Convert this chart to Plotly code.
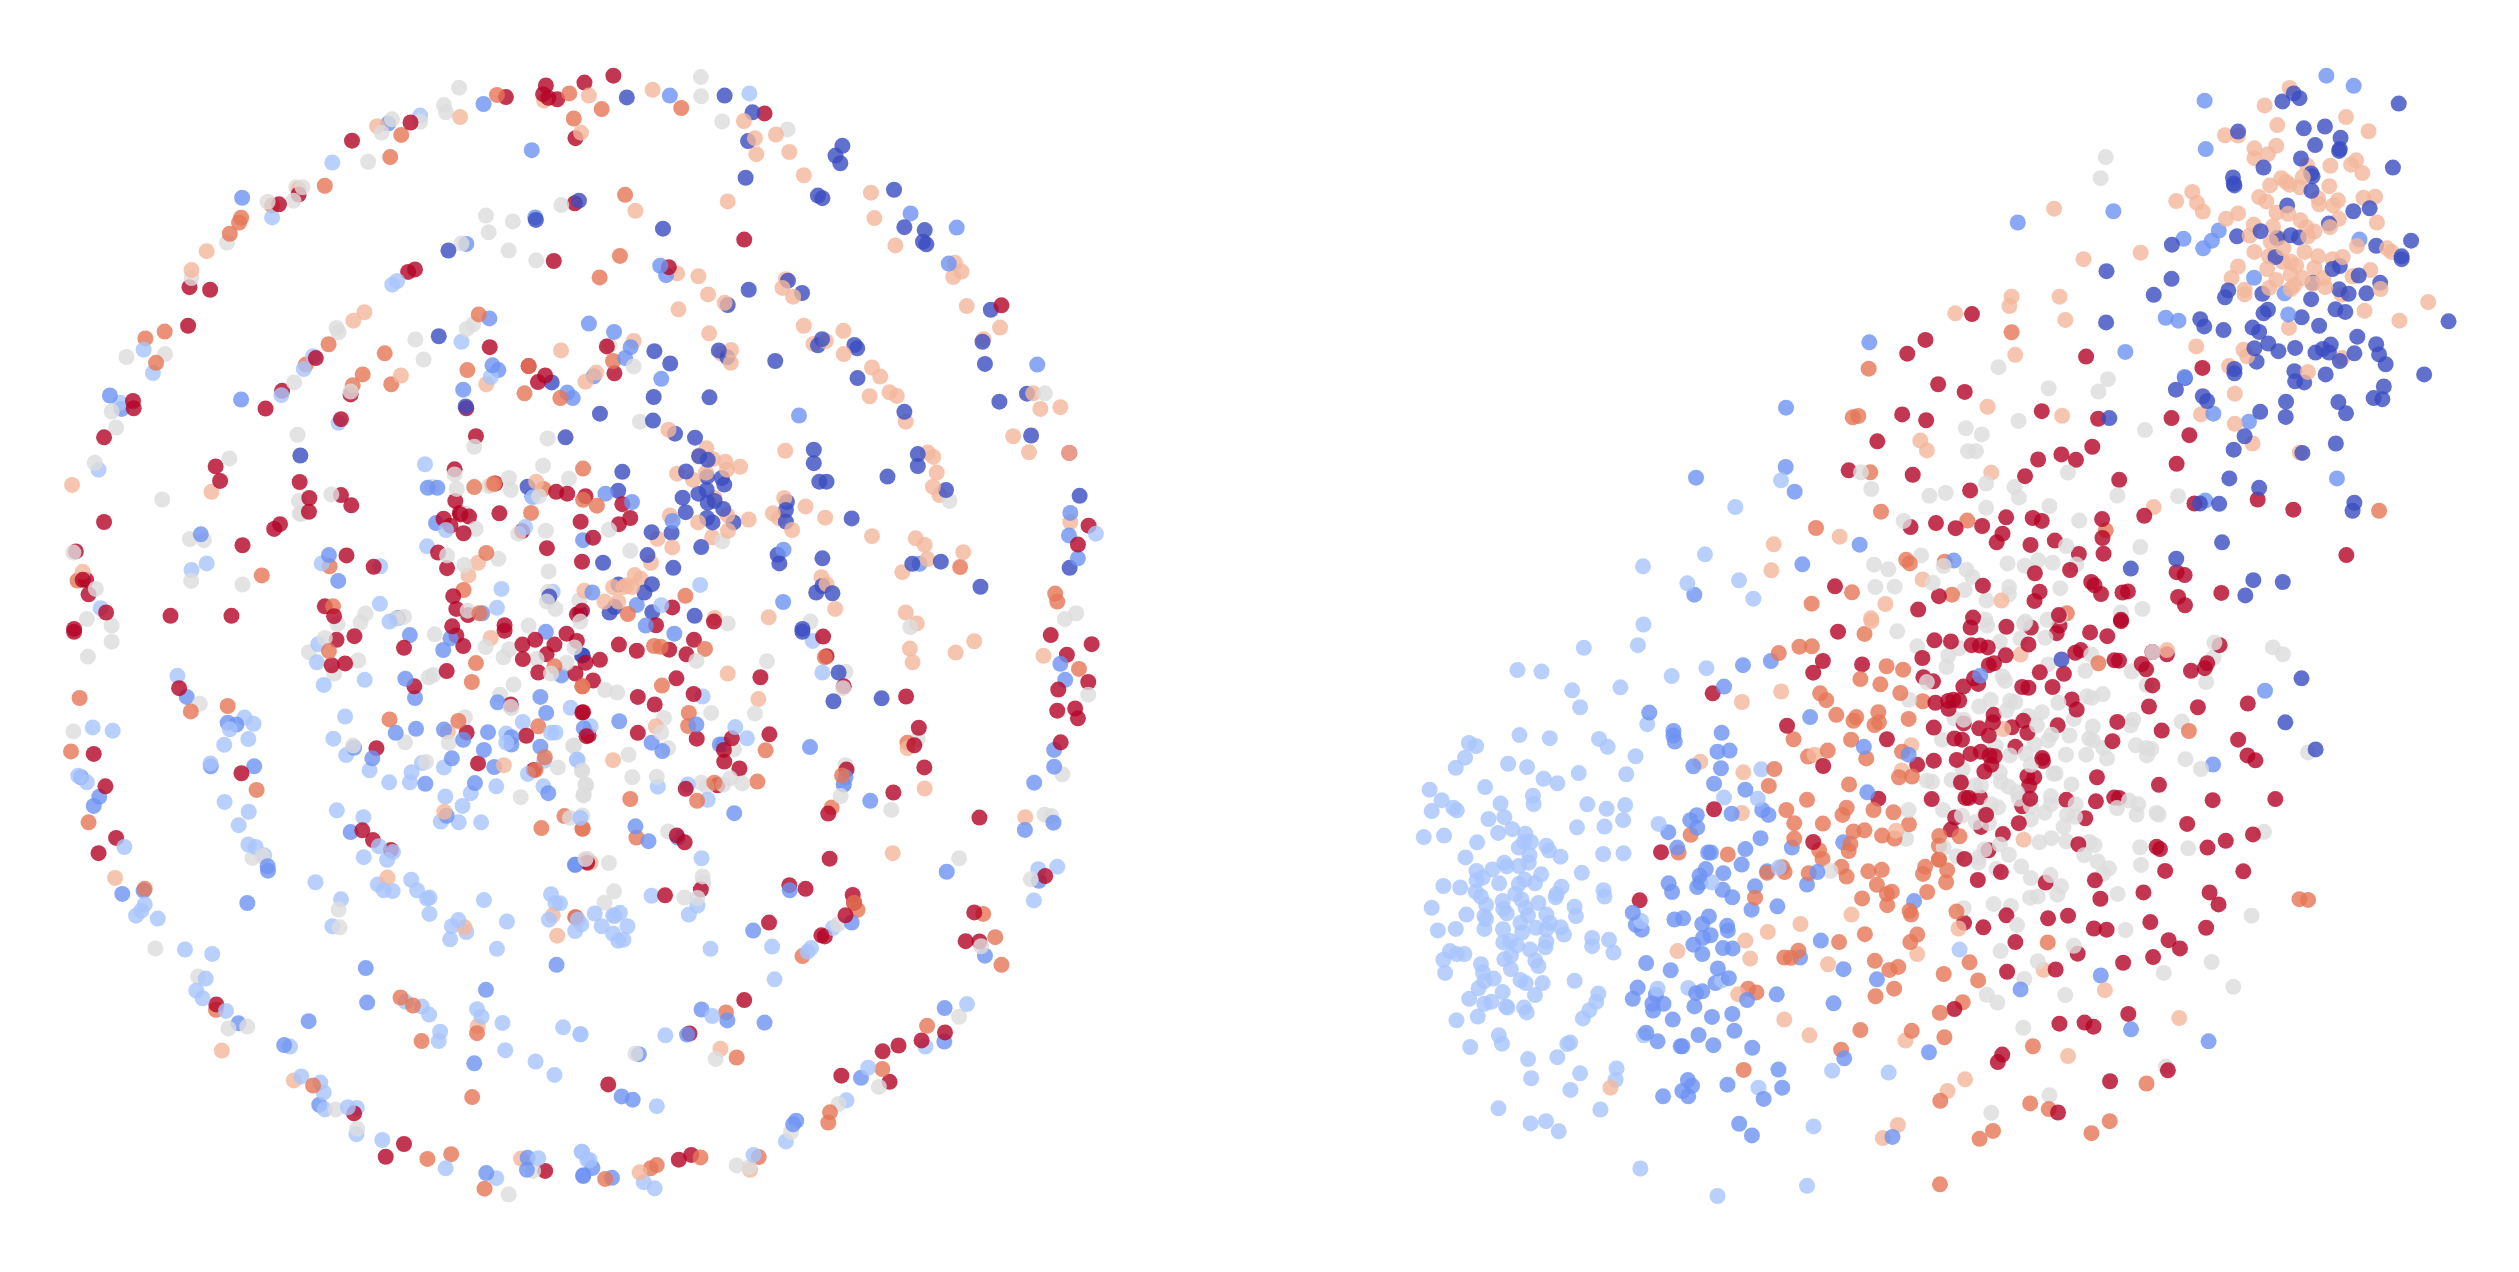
import plotly.graph_objects as go

CLASS_COLORS = {"d": "#3b4cc0", "m": "#6d92f1", "l": "#a7c4fc", "g": "#dddcdc",
                "p": "#f4b79b", "o": "#e57656", "r": "#b40426"}

# ---- left cloud, read sheet by sheet from the picture ----
A1_r = [(877,222),(1047,172),(1324,102),(1440,70),(1432,94),(1473,108),(1447,104),(1526,215),(1552,62),(722,370),(665,397),(1060,576),(1040,583),(405,625),(465,632),(401,731),(241,938),(243,958),(772,820),(674,910),(626,959),(845,988),(1209,958),(157,1038),(1237,1035),(1277,790),(1438,868),(1417,886),(1463,553),(1524,394),(481,1118),(494,1158),(725,1161),(753,1205),(752,1243),(845,1197),(875,1225),(157,1271),(668,1277),(651,1290),(559,1335),(861,1363),(940,1394),(1175,1126),(1177,1213),(1190,1246),(1192,1250),(1217,1256),(1143,1262),(1163,1281),(1201,1302),(1305,1247),(1293,1165),(1470,1188),(1502,1193),(1541,1270),(1555,1200),(1371,1296),(1443,1343),(1545,1380),(1127,1355),(1153,1398),(75,1352),(105,1430),(95,1430),(112,1470),(163,1520),(350,1529),(527,1529),(798,1503),(825,1530),(1171,1475),(1180,1510),(1214,1527),(1320,1555),(1168,1558),(1530,1525),(1545,1515),(70,1565),(873,920),(1390,842)]
A1_o = [(1298,96),(1508,92),(1521,161),(1020,206),(988,267),(798,346),(645,400),(555,434),(549,447),(522,478),(277,766),(333,747),(308,833),(809,782),(743,838),(972,807),(908,865),(879,895),(991,892),(1245,700),(1212,853),(1378,917),(1482,930),(1390,842),(1433,1180),(1548,1124),(1232,1175),(1290,1165),(1548,1210),(1397,1246),(1267,1356),(1201,1458),(1247,1522),(812,1393),(615,1418),(822,1503),(80,1432)]
A1_p = [(1191,157),(950,182),(1542,200),(1565,98),(1435,112),(722,355),(455,526),(411,578),(881,717),(913,694),(1019,868),(1484,799),(1267,892),(1555,885),(1412,1160),(1285,1168),(64,1169),(469,1188),(1215,1418),(1243,1383),(95,1408),(1552,1460)]
A1_g = [(1188,76),(1144,124),(1150,144),(993,163),(1075,170),(963,200),(924,280),(632,390),(707,387),(715,350),(733,350),(514,502),(411,600),(334,809),(222,817),(179,967),(192,1011),(130,1108),(521,1096),(326,1209),(832,737),(838,749),(1061,769),(1085,824),(1210,740),(1229,727),(1266,428),(1274,474),(1344,444),(1332,524),(1412,551),(1485,399),(1195,505),(709,887),(873,912),(719,1031),(1445,1041),(1232,1064),(1432,1116),(1333,1150),(1507,1152),(1338,1183),(1275,1172),(1181,1180),(1110,1174),(817,1195),(723,1213),(725,1248),(731,1248),(1175,1140),(1205,1248),(1236,1290),(1360,1303),(1440,1295),(1153,1363),(1302,1372),(1203,1389),(1448,1407),(1447,1463),(1537,1487),(1468,1510),(1443,1490),(406,1318),(447,1321),(410,1433),(559,1443),(68,1355),(133,1455),(107,1538),(179,1556),(916,1523),(902,1547),(1028,1532),(1005,1537),(1213,1515),(1390,1556),(1540,1545),(835,1552),(1420,1200)]
A1_l = [(820,282),(1075,153),(272,797),(299,861),(645,433),(1008,608),(994,618),(737,850),(672,922),(764,815),(204,943),(141,1127),(1195,775),(1280,872),(838,998),(1089,1112),(1380,1285),(1402,1203),(1095,1338),(959,1393),(789,1385),(411,1403),(455,1385),(147,1508),(958,1496),(1311,1455),(1298,1507),(1460,1463),(986,1545),(1150,1293)]
A1_m = [(1259,121),(982,175),(558,379),(1399,248),(1409,433),(1209,506),(1276,711),(1565,725),(1285,840),(1302,853),(1200,907),(1502,915),(1518,930),(174,923),(208,960),(555,934),(1097,1177),(1125,1177),(1400,1200),(1121,1274),(1548,1321),(810,1362),(837,1433),(1255,1522),(1010,1535),(438,1305)]
A1_d = [(1536,387),(1411,440),(1157,524),(1129,760),(1457,887),(1207,953),(1497,1038),(727,1088),(1387,1174),(1450,1476),(1540,1520)]

A2_r = [(126,43),(565,147),(506,494),(1253,675),(287,570),(1450,1081),(1506,1281),(1475,1333),(152,1222),(175,1260),(142,1277),(67,1314),(129,862),(297,1506),(250,1555),(418,1545),(107,788)]
A2_o = [(92,135),(323,132),(160,371),(145,539),(86,598),(125,828),(78,1226),(335,1474),(168,1524),(1133,1395),(1409,1468),(1415,1490)]
A2_p = [(240,82),(505,168),(537,215),(598,205),(637,253),(541,259),(679,317),(458,389),(190,415),(874,365),(884,435),(945,510),(1118,558),(1137,582),(1113,597),(1152,677),(1249,736),(1201,768),(311,587),(373,595),(401,645),(449,668),(315,686),(617,627),(627,603),(648,651),(679,731),(707,781),(743,773),(794,745),(795,809),(877,846),(901,871),(928,914),(949,924),(870,925),(975,995),(404,752),(440,808),(468,798),(467,833),(185,773),(76,860),(286,1017),(396,1068),(375,1088),(415,1098),(451,1105),(494,1119),(456,1127),(311,1138),(357,1155),(395,1135),(420,1205),(290,1253),(372,1272),(413,1313),(459,1295),(457,1252),(519,1264),(254,1317),(297,1341),(235,1383),(625,1075),(622,1205),(684,1228),(589,1247),(606,1260),(645,1293),(741,1259),(877,1310),(1039,1080),(1055,1092),(1065,1135),(1054,1174),(1073,1197),(1004,1316),(1030,1334),(1038,1373),(1142,1354),(965,1409),(1287,1035),(1333,1079),(1345,917),(1366,960),(1424,955),(1453,1271),(730,1423),(745,1442),(770,1510),(975,1520),(1007,1550),(577,1533),(188,1417),(205,1427),(165,1445),(180,1450),(155,1450),(125,1450),(100,1490),(140,1490),(420,1535),(1450,1081)]
A2_g = [(380,47),(381,100),(442,169),(632,191),(1379,917),(1102,1213),(203,995),(185,843),(175,1350),(113,1292),(442,1324),(1437,1538),(1470,1522),(698,1545),(988,1560),(458,1550),(115,785)]
A2_l = [(521,92),(1527,1303),(378,1444),(265,1500)]
A2_m = [(290,98),(989,422),(1123,461),(1100,560),(262,566),(279,592),(128,748),(176,790),(160,820),(265,877),(69,870),(180,1216),(103,1193),(298,1268),(620,1347),(665,978),(1357,838),(1453,1246),(1449,1308),(1475,1371),(1015,1386),(194,1499),(619,1491),(220,1556),(65,1465)]
A2_d = [(165,103),(449,98),(530,144),(517,223),(791,236),(771,263),(785,284),(510,324),(720,373),(733,380),(941,357),(971,460),(1030,468),(1025,500),(1035,507),(270,464),(1222,687),(1198,775),(1205,836),(633,607),(674,641),(519,632),(458,674),(245,801),(291,835),(432,799),(457,818),(732,768),(720,785),(826,784),(834,793),(835,875),(596,828),(243,927),(405,928),(87,973),(241,992),(1247,940),(1327,918),(971,968),(305,1028),(363,1039),(375,1090),(400,1100),(337,1132),(398,1147),(441,1150),(448,1168),(152,1133),(140,1185),(397,1183),(373,1193),(327,1204),(400,1218),(420,1213),(445,1235),(336,1244),(398,1260),(414,1272),(475,1272),(237,1299),(295,1301),(381,1340),(225,1362),(300,1397),(96,1383),(630,1216),(627,1238),(627,1270),(708,1072),(708,1109),(724,1160),(745,1160),(922,1146),(1010,1084),(1010,1117),(1092,1183),(818,1261),(1077,1380),(994,1386),(1339,1033),(1480,1199),(1451,1397),(603,1361),(608,1385),(733,1371),(141,1443),(238,1442),(216,1465),(1192,1449),(715,1465),(733,1447),(762,1467),(239,1519),(362,1529),(115,1520),(130,1505),(675,1565)]

A3_r = [(70,5),(832,27),(884,17),(1028,49),(1200,44),(1180,15),(1372,40),(1409,27),(818,97),(857,92),(1152,113),(1373,80),(1418,117),(1058,155),(1526,120),(1546,227),(1442,67),(1465,40),(1500,10),(1530,30),(1555,90),(1338,205),(948,325),(1210,282),(1383,291),(1558,292),(1243,367),(127,341),(161,430),(375,160),(556,394),(907,551),(938,578),(990,605),(192,572),(141,614),(483,1030),(1438,1488),(1028,1414),(975,1449),(883,1330),(1320,2),(1560,640),(1405,385)]
A3_o = [(86,187),(61,334),(516,209),(409,224),(600,440),(986,246),(1186,250),(1237,91),(1225,143),(1418,265),(1437,350),(1410,385),(1546,155),(1465,100),(1494,512),(1427,545),(1546,547),(275,712),(112,529),(1018,1011),(1054,1033),(1079,1131),(1240,1109),(1226,1285),(764,1253),(1096,1455),(1165,1442),(1262,1537),(482,1045),(810,58),(1525,790)]
A3_p = [(1280,22),(189,682),(980,681),(1145,500),(1318,372),(1204,818),(1460,785),(1473,841),(708,1239),(1242,1090),(499,1157),(1368,1454),(1155,280)]
A3_g = [(179,32),(110,73),(752,61),(798,22),(1117,12),(1265,47),(1333,53),(1317,75),(895,84),(1413,80),(1500,90),(1455,120),(1523,48),(825,120),(1100,130),(1113,124),(1346,150),(1307,178),(1340,215),(1205,240),(1031,309),(880,318),(68,279),(435,203),(1158,310),(1519,319),(1092,363),(1475,378),(1545,387),(1555,425),(1549,455),(1367,460),(1338,212),(1510,517),(617,622),(588,627),(1555,630),(838,769),(841,818),(306,876),(430,953),(518,1096),(573,1091),(830,1319),(892,1372),(1403,1488),(1332,1553)]
A3_l = [(779,39),(775,89),(370,126),(795,151),(914,137),(857,238),(823,299),(860,344),(928,386),(985,419),(1045,419),(1050,391),(1080,366),(1144,378),(1512,214),(1373,253),(1455,283),(1468,282),(1325,285),(1325,310),(1530,357),(1433,430),(1435,360),(1388,396),(1296,430),(1222,449),(1148,458),(1198,484),(1135,527),(1187,529),(1252,529),(1540,517),(124,268),(182,277),(82,401),(107,419),(565,241),(591,258),(522,273),(576,300),(506,316),(466,367),(507,473),(577,500),(548,537),(576,590),(597,597),(622,620),(216,597),(833,496),(910,515),(955,595),(996,611),(979,632),(911,625),(771,694),(845,741),(820,815),(952,700),(969,716),(995,718),(1049,687),(1066,716),(1095,739),(1102,736),(1102,781),(1186,798),(1167,815),(1209,831),(1162,851),(1260,743),(1327,802),(1298,877),(1455,727),(1468,752),(1481,752),(1449,797),(1525,828),(1543,810),(1533,797),(275,755),(265,772),(250,786),(313,794),(392,879),(471,891),(452,959),(425,992),(443,1013),(511,1048),(697,1146),(730,1228),(785,1245),(795,1272),(798,1319),(865,1313),(891,1315),(890,1387),(965,1403),(1033,1023),(1080,1036),(1101,1058),(1133,1105),(1129,1131),(1240,1043),(1253,1064),(1314,1081),(1322,1156),(1490,1093),(1541,1112),(1410,1187),(1465,1224),(1149,1481),(1418,1453),(1296,1508),(1544,1435),(1560,1457)]
A3_m = [(1045,14),(1163,23),(1142,55),(1440,5),(1032,134),(1060,187),(1424,184),(1441,228),(1300,199),(1004,283),(1063,272),(1144,274),(1200,302),(1272,281),(1260,330),(1340,295),(1340,315),(1424,321),(1167,353),(1290,377),(1090,423),(1234,421),(1447,449),(936,353),(883,324),(516,255),(541,260),(593,375),(467,375),(90,405),(143,459),(127,484),(397,184),(1152,511),(873,556),(632,650),(633,662),(210,726),(272,717),(573,751),(917,930),(921,1025),(1266,990),(1471,921),(1232,1192),(547,1082),(751,1076),(680,1142),(782,1306),(1267,1494),(1387,1452),(1549,1500),(1385,1485),(1525,646),(1485,125)]
A3_d = [(1545,70)]

A4_r = [(142,40),(194,57),(288,54),(338,67),(360,27),(87,82),(67,139),(309,133),(197,184),(246,205),(359,176),(197,283),(368,299),(38,226),(54,290),(447,330),(448,362),(492,381),(579,287),(336,437),(428,427),(553,130),(745,72),(735,18),(1396,14),(1515,39),(1443,68),(1505,143),(1418,164),(1415,222),(1467,216),(1475,243),(1425,309),(1013,269),(1000,317),(1029,378),(939,447),(976,183),(795,155),(750,505),(803,384),(1189,516),(754,629),(310,565),(333,584),(47,635),(380,714),(276,730),(637,702),(684,712),(821,729),(825,750),(800,785),(578,805),(730,840),(740,843),(1380,677),(1174,777),(1149,856),(1189,857),(506,1018),(347,1110),(111,1250),(908,1159),(954,1143),(1021,1129),(1089,1107),(928,1243),(788,1226),(316,1457),(352,1444),(470,298)]
A4_o = [(244,44),(263,46),(392,52),(267,153),(36,155),(345,228),(343,264),(568,331),(544,417),(175,465),(369,470),(37,546),(193,571),(419,420),(760,488),(740,75),(1478,107),(790,400),(980,310),(835,770),(825,750),(1200,781),(1235,845),(1253,921),(675,897),(453,1052),(484,1176),(1037,1089),(907,1208),(755,1327),(750,1355),(379,1451),(548,1450),(252,1472),(234,1481),(102,1510),(17,790)]
A4_p = [(458,120),(547,190),(249,265),(125,358),(987,51),(995,89),(1120,62),(1174,31),(1375,71),(1030,436),(1322,515),(937,614),(437,1152),(523,1485),(202,1492),(60,640),(980,325)]
A4_g = [(572,86),(367,85),(102,165),(137,172),(537,230),(410,228),(273,242),(265,282),(285,325),(170,343),(12,318),(35,387),(181,405),(252,404),(47,427),(40,453),(465,408),(500,422),(381,420),(445,425),(397,430),(476,328),(800,115),(793,160),(786,457),(800,372),(802,385),(933,495),(1010,300),(1505,178),(1430,397),(1378,508),(1398,512),(285,554),(113,641),(50,630),(128,719),(100,750),(385,678),(387,695),(332,736),(370,737),(36,510),(1130,628),(1338,686),(778,810),(1194,870),(1130,1064),(423,1180),(190,1165),(897,1257),(780,1304),(642,1381),(484,1473),(520,1478)]
A4_l = [(733,117),(705,30),(385,183),(60,265),(22,357),(255,431),(480,267),(514,298),(342,425),(400,467),(30,517),(795,425),(382,628),(237,731),(1360,658),(1415,651),(1347,744),(370,758),(345,783),(72,780),(125,785),(145,778),(130,787),(92,815),(167,815),(125,835),(140,855),(155,852),(408,877),(587,871),(594,961),(763,820),(700,875),(690,885),(413,1062),(277,1115),(30,1112),(252,1310),(627,1407),(803,1294),(866,1204),(1153,1029),(1032,1146),(35,1435),(57,1458),(214,1519),(246,1536),(533,1444)]
A4_m = [(303,10),(143,251),(237,310),(268,333),(435,315),(445,315),(367,260),(697,322),(872,470),(800,405),(795,425),(818,805),(477,504),(190,540),(228,581),(313,571),(15,646),(1094,665),(1348,420),(1406,376),(1406,330),(1424,93),(1438,137),(1321,550),(1404,530),(1362,690),(532,827),(638,716),(1205,896),(382,1044),(457,1074),(565,1080),(340,1113),(200,1167),(150,1283),(182,1292),(1088,1040),(1087,1132),(845,1232),(657,1350),(648,1360),(65,1480),(38,1502),(122,1507),(40,270)]
A4_d = [(675,5),(780,117),(765,196),(905,188),(37,70)]

# ---- right cloud ----
B1_l = [(707,12),(534,74),(691,67),(341,133),(411,137),(789,149),(890,128),(500,187),(640,179),(523,232),(718,277),(347,306),(435,314),(578,316),(603,337),(200,327),(221,335),(189,366),(162,393),(314,382),(369,391),(684,362),(519,407),(657,410),(417,422),(457,434),(86,451),(121,479),(247,444),(386,467),(388,489),(292,488),(92,508),(155,499),(165,506),(544,490),(600,502),(654,492),(648,532),(257,529),(303,524),(326,556),(285,566),(364,568),(514,551),(594,549),(69,577),(128,573),(224,591),(360,590),(380,590),(345,605),(425,600),(433,613),(466,629),(376,625),(374,645),(590,622),(649,620),(190,631),(303,645),(310,655),(345,654),(268,663),(222,667),(240,685),(222,692),(410,676),(528,672),(362,690),(345,702),(392,700),(288,700),(126,707),(175,711),(469,709),(220,722),(235,735),(455,728),(452,737),(591,718),(594,735),(335,728),(250,757),(298,747),(353,743),(402,752),(92,765),(507,762),(511,787),(193,783),(245,787),(250,795),(300,768),(310,780),(365,765),(372,785),(425,783),(435,805),(350,805),(110,825),(162,821),(245,821),(299,822),(355,830),(395,818),(425,822),(467,817),(476,836),(558,845),(558,867),(607,850),(620,884),(300,857),(320,853),(340,865),(425,855),(422,870),(378,876),(145,880),(165,888),(187,888),(126,903),(303,902),(322,892),(393,905),(402,920),(131,938),(235,915),(322,928),(241,937),(272,953),(245,960),(350,957),(365,965),(414,965),(507,959),(228,979),(298,989),(392,997),(576,993),(201,1007),(570,1015),(550,1037),(265,1015),(245,1020),(308,1027),(360,1030),(368,1043),(312,1030),(531,1059),(164,1064),(226,1054),(287,1104),(296,1126),(204,1135),(494,1123),(486,1127),(372,1167),(457,1162),(381,1218),(523,1205),(629,1192),(626,1222),(495,1249),(286,1298),(582,1301),(379,1338),(424,1332),(461,1359),(698,1458),(922,1531),(1201,1346),(1182,1504),(1255,1198),(1419,1203),(1041,1243),(708,1104),(837,978),(748,980),(935,958),(905,697),(700,800),(751,542),(941,472),(1039,475),(1049,397),(1100,658)]
B1_m = [(724,246),(794,295),(794,307),(798,323),(934,300),(922,350),(957,347),(852,389),(932,394),(912,435),(1003,451),(996,120),(1077,109),(941,177),(1191,258),(1347,337),(1477,358),(1357,458),(862,519),(843,532),(863,552),(779,564),(963,515),(1052,505),(1070,518),(1047,580),(805,605),(1003,609),(992,650),(1287,591),(1138,605),(895,618),(903,618),(888,662),(870,680),(939,673),(872,698),(863,710),(780,700),(790,723),(937,717),(965,737),(1031,708),(1021,770),(1096,761),(1182,703),(1212,670),(1066,668),(676,778),(685,810),(702,823),(797,796),(822,793),(897,788),(878,808),(950,813),(952,825),(902,838),(880,845),(852,863),(878,888),(938,872),(966,873),(1222,852),(1162,897),(1288,928),(1493,747),(715,912),(786,931),(923,926),(955,952),(916,965),(690,977),(676,1007),(743,996),(733,1020),(765,1020),(735,1038),(860,992),(878,987),(855,1027),(1008,1010),(1094,995),(1259,1019),(1385,955),(792,1062),(906,1055),(965,1047),(971,1092),(715,1097),(748,1120),(867,1103),(910,1130),(815,1133),(820,1133),(1023,1137),(1099,1195),(1110,1243),(836,1223),(820,1252),(848,1238),(837,1266),(764,1266),(951,1235),(1056,1273),(985,1339),(1022,1370),(1430,1374),(1290,1165),(1536,1149)]
B1_o = [(1100,88),(1160,71),(1196,70),(1349,37),(1413,123),(1461,132),(1337,157),(1395,171),(1220,195),(1238,213),(1453,194),(1518,216),(1267,252),(1325,258),(1317,268),(1389,245),(1378,279),(1391,272),(1477,263),(1143,317),(1310,318),(1242,347),(1185,363),(1354,368),(1458,350),(1087,396),(1071,441),(1449,418),(1487,416),(1304,437),(1182,478),(1122,505),(1297,499),(1285,518),(1375,505),(1433,511),(1145,540),(1228,541),(1478,543),(1317,562),(1349,559),(1145,581),(1400,573),(1436,581),(844,571),(809,618),(952,623),(1308,595),(1303,614),(1217,612),(1227,635),(1117,670),(1110,657),(1066,672),(1187,673),(1282,656),(1297,682),(1360,668),(1399,664),(1525,656),(1519,675),(1385,704),(1428,722),(1414,728),(1342,740),(1531,723),(1415,758),(1031,738),(1480,773),(1484,783),(1350,835),(1275,856),(1502,836),(1482,856),(1157,879),(1116,897),(1135,898),(1379,906),(1421,930),(1447,922),(1435,980),(1381,1000),(1011,980),(1035,990),(1486,1092),(1337,1090),(1281,1142),(998,1196),(1565,600),(1565,637)]
B1_p = [(1369,3),(1107,190),(993,218),(872,377),(997,405),(1204,358),(1485,333),(1457,400),(993,513),(1441,560),(1311,783),(1163,808),(1068,829),(1003,852),(806,880),(1017,900),(1243,915),(1502,888),(982,995),(1116,1062),(1189,1104),(1468,1118),(611,1243),(1402,1377),(1446,1342)]
B1_r = [(1272,31),(1552,54),(1517,101),(1228,109),(1200,140),(1342,118),(1520,152),(1548,163),(908,195),(1124,281),(1550,286),(1414,317),(1229,388),(1502,385),(1550,374),(1389,475),(1544,476),(912,503),(1200,590),(758,617),(696,745),(1555,220)]
B1_g = [(1444,30),(1502,70),(1478,212),(1530,165),(1530,427),(1250,667),(1477,505),(1470,582),(1545,430)]

B2_r = [(205,20),(309,18),(380,20),(463,15),(552,33),(602,43),(642,3),(455,35),(148,57),(208,67),(232,68),(255,73),(373,65),(307,94),(509,87),(525,80),(623,107),(636,108),(702,117),(715,131),(775,91),(733,174),(845,135),(885,128),(892,115),(928,67),(184,177),(215,155),(227,170),(258,120),(273,115),(406,139),(476,143),(443,178),(355,178),(373,180),(499,211),(513,238),(723,230),(865,232),(1010,222),(140,215),(155,212),(172,214),(141,236),(272,252),(270,272),(230,288),(258,307),(325,285),(358,268),(370,300),(458,280),(631,271),(760,294),(158,315),(180,318),(185,275),(335,337),(617,322),(982,318),(1009,360),(1032,373),(205,356),(235,350),(260,360),(275,362),(165,372),(245,403),(265,385),(415,375),(370,415),(390,418),(375,440),(572,418),(752,438),(177,432),(190,473),(200,473),(232,471),(378,475),(355,495),(483,478),(569,482),(622,472),(636,473),(908,479),(1090,476),(160,525),(148,557),(250,518),(235,550),(345,540),(538,527),(834,542),(1025,570),(946,587),(893,605),(745,603),(755,609),(299,569),(518,596),(257,612),(187,635),(293,670),(226,691),(770,667),(997,668),(423,698),(566,692),(707,724),(582,741),(899,724),(925,756),(309,785),(186,805),(242,817),(430,793),(488,786),(563,820),(600,823),(727,803),(889,818),(780,851),(813,873),(335,856),(516,887),(735,896),(648,911),(452,929),(311,935),(158,1034),(663,1047),(463,1073),(536,1070),(562,1081),(297,1155),(284,1175),(778,1197),(610,1226),(459,1309),(413,367),(733,85)]
B2_o = [(127,941),(202,910),(227,958),(182,1016),(116,1044),(129,1109),(386,1133),(117,1278),(378,1285),(432,1300),(270,1358),(231,1379),(609,1332),(556,1364),(716,1232),(116,1500),(429,857),(576,115),(839,295),(1160,742),(1185,744),(114,574),(173,575),(113,636),(137,665),(134,697),(164,775)]
B2_p = [(350,92),(300,290),(359,584),(170,820),(417,930),(595,984),(811,1058),(488,1159),(189,1221),(138,1252),(775,80)]
B2_g = [(140,95),(135,125),(172,75),(253,15),(290,58),(350,50),(360,10),(422,47),(430,118),(298,150),(305,162),(263,212),(230,230),(320,215),(335,218),(412,245),(372,255),(398,280),(310,240),(158,262),(185,265),(122,318),(278,335),(365,355),(319,360),(391,330),(430,320),(440,305),(492,307),(482,358),(541,358),(550,315),(560,320),(601,368),(590,340),(560,283),(505,263),(670,280),(677,265),(685,333),(716,340),(730,343),(717,360),(818,270),(829,370),(874,396),(1185,352),(1083,73),(1112,91),(538,135),(556,92),(673,137),(734,85),(716,173),(889,165),(910,100),(913,60),(543,203),(557,207),(589,197),(460,220),(415,367),(380,385),(445,408),(452,408),(290,405),(293,430),(315,443),(150,425),(175,430),(182,397),(235,440),(217,440),(340,458),(345,475),(498,437),(438,468),(438,490),(380,495),(420,512),(285,498),(265,490),(125,505),(180,520),(220,537),(258,540),(248,515),(510,490),(485,518),(508,523),(475,550),(380,530),(630,500),(665,480),(692,490),(687,517),(745,513),(751,517),(127,605),(165,628),(228,632),(228,645),(245,610),(290,597),(316,624),(405,591),(440,580),(483,588),(550,590),(565,598),(535,625),(697,604),(837,607),(1057,563),(352,655),(280,662),(380,686),(437,678),(468,708),(574,642),(607,660),(590,675),(700,651),(378,738),(400,735),(457,730),(632,728),(272,755),(322,760),(185,766),(340,811),(655,824),(292,880),(505,866),(400,907),(361,954),(252,996),(283,1017),(480,997),(358,1084),(1021,786),(766,938),(905,909),(968,975),(434,1263),(265,1310),(772,1187)]
B2_m = [(233,148),(1060,188),(909,384),(583,945),(350,982),(671,1088),(896,1120)]
B2_l = [(173,876)]
B2_d = [(469,105),(1166,155),(1119,272),(1207,344)]

B3_p = [(1072,77),(1003,125),(1038,179),(1227,157),(1289,196),(894,207),(930,208),(975,243),(1035,236),(1012,259),(975,270),(1184,291),(1120,290),(1241,288),(1255,276),(1272,311),(1049,325),(1062,335),(1072,343),(1018,345),(1100,350),(1108,322),(1181,347),(804,363),(760,388),(817,393),(833,417),(988,377),(1008,389),(1150,380),(1153,397),(1205,386),(1192,400),(1275,379),(1307,376),(1036,420),(1068,423),(930,422),(897,437),(1207,437),(1312,447),(1102,441),(1026,458),(973,453),(962,483),(1183,460),(1118,460),(1140,472),(1123,485),(1043,490),(1020,500),(1055,518),(975,528),(1113,528),(1257,512),(1340,518),(1352,528),(662,530),(505,548),(1150,540),(1190,548),(1218,542),(1015,540),(1075,555),(1090,565),(1010,575),(1053,555),(930,568),(1140,572),(1294,578),(1075,590),(1107,600),(1035,605),(1085,620),(1075,630),(1170,625),(1165,600),(1245,595),(912,600),(948,632),(948,645),(1016,627),(1215,645),(1322,630),(1453,666),(1278,690),(1374,717),(1070,737),(424,409),(307,651),(301,677),(439,651),(152,697),(455,715),(317,811),(241,954),(446,979),(56,1047),(74,1074),(251,1135),(698,1230),(279,1487),(62,1429),(815,788),(945,797),(955,815),(905,842),(1122,858),(1217,820),(921,918),(828,975),(921,1001),(970,1055),(1100,1080),(1135,615)]
B3_o = [(307,749),(1318,1240),(566,1294),(185,1267),(17,1375),(27,1385),(123,1380),(143,1471),(459,1522)]
B3_g = [(566,267),(552,325),(271,845),(409,903),(572,878),(546,912),(326,993),(181,1013),(225,1030),(187,1076),(209,1076),(674,1018),(462,1135),(237,1165),(315,1175),(327,1204),(81,1199),(126,1191),(237,1232),(411,1227),(598,1198),(765,1200),(493,1267),(661,1340),(457,1337),(58,1363),(120,1392),(183,1402),(199,1422),(296,1385),(343,1391),(380,1376),(420,1383),(485,1388),(90,1438),(178,1458),(300,1450),(300,1470),(441,1453),(238,1487),(667,1510),(608,1520),(10,1268),(405,1540),(440,1530),(345,1545),(235,1540)]
B3_m = [(838,112),(1173,43),(1248,71),(841,245),(587,416),(324,447),(877,469),(858,497),(834,518),(780,492),(1264,494),(974,599),(1058,642),(731,709),(766,717),(1068,700),(620,803),(783,872),(862,973),(960,995),(1202,1151),(840,1212),(148,1377)]
B3_d = [(1083,92),(1099,105),(1052,114),(1372,120),(1111,188),(1169,183),(930,197),(1212,214),(1142,234),(1210,245),(1208,250),(1103,271),(1000,296),(1356,296),(1131,312),(1135,320),(916,323),(918,340),(920,345),(1132,360),(1065,400),(1247,416),(1292,408),(1180,450),(992,471),(927,485),(1037,490),(1075,482),(1097,488),(748,508),(1310,511),(1406,497),(1033,542),(1380,540),(1380,548),(1190,575),(1210,567),(568,581),(747,602),(1262,593),(1321,613),(1135,613),(698,646),(903,634),(894,653),(997,643),(1208,631),(1234,643),(1283,642),(1131,658),(1012,687),(1000,697),(1198,686),(1225,693),(1105,708),(826,713),(837,733),(890,743),(1153,731),(970,736),(988,748),(567,722),(1509,719),(1013,780),(1041,801),(975,793),(1087,792),(1258,761),(1185,783),(1163,795),(1143,805),(1180,805),(1250,807),(1310,782),(1318,810),(1336,837),(1210,828),(981,830),(920,850),(920,862),(1085,856),(1171,865),(1087,884),(1112,887),(1442,865),(784,875),(759,907),(833,925),(845,938),(1331,898),(1303,930),(1327,933),(1062,940),(1206,941),(1227,972),(991,968),(1061,982),(576,985),(948,1035),(918,1072),(1199,1055),(1107,1081),(906,1151),(988,1177),(878,1221),(825,1220),(1250,1218),(1245,1240),(886,1327),(760,1372),(635,1399),(972,1431),(1053,1436),(950,1473)]
B3_r = [(832,847),(198,699),(70,770),(20,808),(105,892),(178,913),(512,816),(6,975),(72,991),(390,966),(545,987),(747,985),(796,1032),(529,1064),(444,1085),(484,1100),(380,1099),(344,1145),(35,1141),(193,1184),(761,1111),(603,1155),(984,1209),(1082,1237),(810,1220),(672,1254),(29,1285),(99,1274),(153,1288),(226,1282),(292,1258),(365,1260),(390,1268),(556,1263),(282,1303),(266,1327),(359,1334),(426,1322),(557,1315),(492,1359),(560,1358),(1228,1362),(468,1403),(371,1412),(761,1409),(783,1417),(228,1446),(107,1475),(384,1463),(370,1488),(526,1436),(535,1445),(553,1469),(612,1465),(627,1462),(765,1477),(784,1500),(884,1466),(50,1512),(201,1534),(437,1527),(608,1540)]

B4_m = [(1288,127),(1038,323),(1037,501),(1064,575),(768,533),(1259,734),(763,884),(1087,793)]
B4_l = [(886,621),(1023,541),(795,763),(609,799),(742,850),(897,841),(940,896)]
B4_o = [(1286,206),(1238,352),(1255,348),(1291,517),(1323,635),(1128,684),(1236,877),(1115,911)]
B4_p = [(1001,733),(1199,710),(994,811),(1336,912),(1293,955)]
B4_r = [(1312,424),(1226,511),(1185,859)]
B4_g = [(1263,517),(1294,567),(1302,794),(1345,808),(1306,861),(1364,860)]

# Each sheet: (panel, origin x, origin y, units per picture pixel in x and y, series by class)
SHEETS = [
    ("x", 50, 60, 2.904, 2.751, dict(r=A1_r, o=A1_o, p=A1_p, g=A1_g, l=A1_l, m=A1_m, d=A1_d)),
    ("x", 570, 60, 2.904, 2.751, dict(r=A2_r, o=A2_o, p=A2_p, g=A2_g, l=A2_l, m=A2_m, d=A2_d)),
    ("x", 50, 630, 2.904, 2.751, dict(r=A3_r, o=A3_o, p=A3_p, g=A3_g, l=A3_l, m=A3_m, d=A3_d)),
    ("x", 570, 630, 2.904, 2.751, dict(r=A4_r, o=A4_o, p=A4_p, g=A4_g, l=A4_l, m=A4_m, d=A4_d)),
    ("x2", 1400, 620, 2.904, 2.658, dict(r=B1_r, o=B1_o, p=B1_p, g=B1_g, l=B1_l, m=B1_m)),
    ("x2", 1900, 620, 2.904, 2.658, dict(r=B2_r, o=B2_o, p=B2_p, g=B2_g, l=B2_l, m=B2_m, d=B2_d)),
    ("x2", 1900, 60, 2.751, 2.751, dict(r=B3_r, o=B3_o, p=B3_p, g=B3_g, m=B3_m, d=B3_d)),
    ("x2", 1440, 300, 3.0, 3.0, dict(r=B4_r, o=B4_o, p=B4_p, g=B4_g, l=B4_l, m=B4_m)),
]

fig = go.Figure()
for axis in ("x", "x2"):
    rows = []
    for panel, x0, y0, ux, uy, series in SHEETS:
        if panel != axis:
            continue
        for cls, pts in series.items():
            for a, b in pts:
                rows.append((x0 + a / ux, y0 + b / uy, CLASS_COLORS[cls], a, b))
    # the classes overlap in no fixed order in the reference, so they are interleaved here
    rows.sort(key=lambda r: (r[3] * 13 + r[4] * 7) % 97)
    fig.add_trace(go.Scatter(
        x=[r[0] for r in rows], y=[r[1] for r in rows], mode="markers",
        xaxis=axis, yaxis="y" if axis == "x" else "y2",
        marker=dict(color=[r[2] for r in rows], size=16, opacity=0.8, line=dict(width=0)),
        hoverinfo="skip", showlegend=False))

fig.update_layout(
    width=2519, height=1272, margin=dict(l=0, r=0, t=0, b=0),
    paper_bgcolor="white", plot_bgcolor="white", showlegend=False,
    xaxis=dict(domain=[0, 0.5], range=[0, 1259.5], visible=False),
    yaxis=dict(domain=[0, 1], range=[1272, 0], visible=False),
    xaxis2=dict(domain=[0.5, 1], range=[1259.5, 2519], visible=False),
    yaxis2=dict(domain=[0, 1], range=[1272, 0], visible=False, anchor="x2"),
)
fig.write_html("out.html", config={"displayModeBar": False},
               post_script="document.body.style.margin='0';document.body.style.overflow='hidden';")
